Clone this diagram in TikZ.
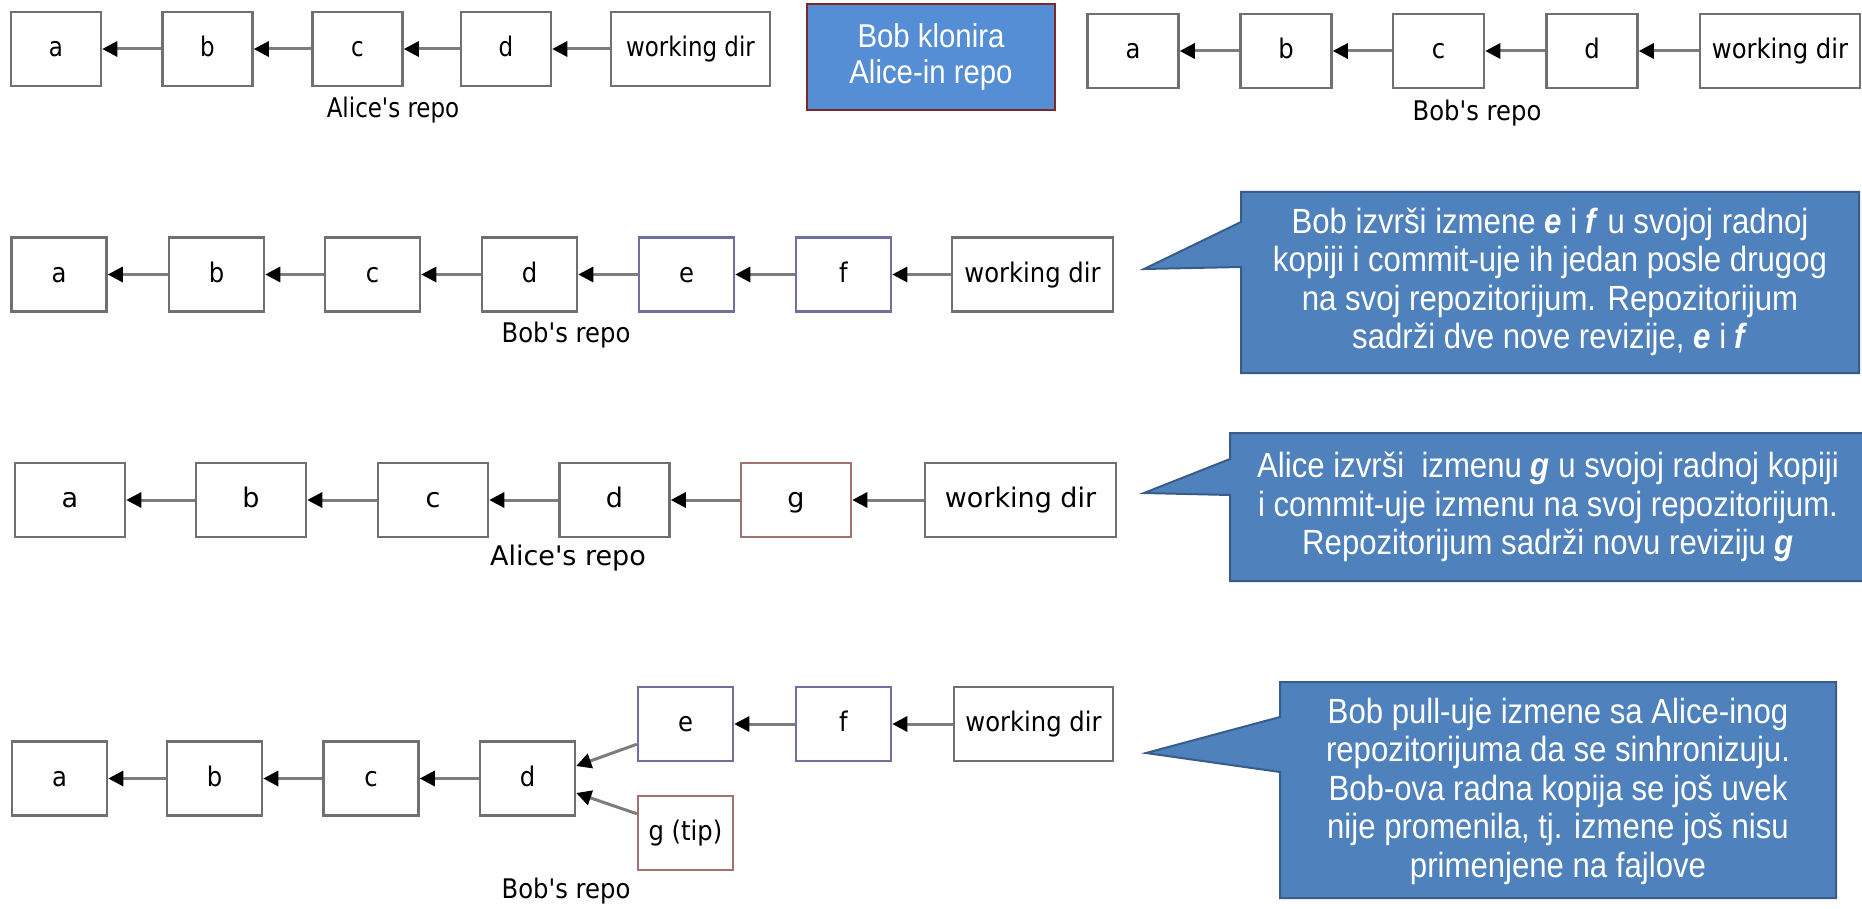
\documentclass[tikz,border=0pt]{standalone}
\usepackage{fontspec}
\setmainfont{Liberation Sans}
\newfontfamily\lblA[FakeStretch=0.85]{DejaVu Sans}
\newfontfamily\lblB[FakeStretch=0.9]{DejaVu Sans}
\newfontfamily\lblC[FakeStretch=1.0]{DejaVu Sans}
\newfontfamily\notefont[FakeStretch=0.89]{Liberation Sans}
\usetikzlibrary{arrows.meta,calc}

\definecolor{boxgray}{RGB}{112,112,112}
\definecolor{boxblue}{RGB}{112,112,160}
\definecolor{boxred}{RGB}{165,112,112}
\definecolor{linkgray}{RGB}{125,125,125}
\definecolor{noteblue}{RGB}{79,129,189}
\definecolor{noteedge}{RGB}{56,93,138}
\definecolor{titleblue}{RGB}{85,142,213}
\definecolor{titleedge}{RGB}{128,40,40}

\newcommand\rowfontA{\lblA\fontsize{27}{32}\selectfont}
\newcommand\rowfontB{\lblB\fontsize{27}{32}\selectfont}
\newcommand\rowfontC{\lblC\fontsize{27}{32}\selectfont}

\tikzset{
  commit/.style={draw=boxgray, line width=2.5pt, fill=white, inner sep=0pt,
                 minimum width=#1, minimum height=74pt,
                 text height=20pt, text depth=5pt},
  newcommit/.style={commit=#1, draw=boxblue},
  tipcommit/.style={commit=#1, draw=boxred},
  link/.style={draw=linkgray, line width=3pt,
               -{Triangle[length=15pt,width=15pt,color=black]}},
  note/.style={fill=noteblue, draw=noteedge, line width=2pt, line join=miter},
  notetext/.style={align=center, text=white, inner sep=0pt,
                   font=\notefont\fontsize{35}{38.5}\selectfont},
  repolabel/.style={inner sep=0pt},
}

\begin{document}
\begin{tikzpicture}[x=1pt,y=-1pt]
\useasboundingbox (0,0) rectangle (1862,909);
\fill[white] (0,0) rectangle (1862,909);

% ---- Alice's repository (top left) ----
\begin{scope}[every node/.append style={font=\rowfontA}]
  \node[commit=90pt] (a1) at (56,49) {a};
  \node[commit=90pt] (b1) at (207.5,49) {b};
  \node[commit=90pt] (c1) at (357.5,49) {c};
  \node[commit=90pt] (d1) at (506,49) {d};
  \node[commit=159pt] (w1) at (690.5,49) {working dir};
  \node[repolabel] (l1) at (393,110) {Alice's repo};
\end{scope}
\draw[link] (b1) -- (a1);
\draw[link] (c1) -- (b1);
\draw[link] (d1) -- (c1);
\draw[link] (w1) -- (d1);

% ---- clone step ----
\node[draw=titleedge, line width=2pt, fill=titleblue, minimum width=248pt,
      minimum height=106pt, inner sep=0pt, align=center, text=white,
      font=\notefont\fontsize{33}{36}\selectfont] (clone) at (931,57)
      {Bob klonira\\Alice-in repo};

% ---- Bob's repository after cloning (top right) ----
\begin{scope}[every node/.append style={font=\rowfontB}]
  \node[commit=91pt] (a1b) at (1133,51) {a};
  \node[commit=91pt] (b1b) at (1286,51) {b};
  \node[commit=91pt] (c1b) at (1438.5,51) {c};
  \node[commit=91pt] (d1b) at (1592,51) {d};
  \node[commit=160pt] (w1b) at (1780,51) {working dir};
  \node[repolabel] (l1b) at (1477,113) {Bob's repo};
\end{scope}
\draw[link] (b1b) -- (a1b);
\draw[link] (c1b) -- (b1b);
\draw[link] (d1b) -- (c1b);
\draw[link] (w1b) -- (d1b);

% ---- Bob commits e and f ----
\begin{scope}[every node/.append style={font=\rowfontB}]
  \node[commit=95pt] (a2) at (59,274.5) {a};
  \node[commit=95pt] (b2) at (216.5,274.5) {b};
  \node[commit=95pt] (c2) at (372.5,274.5) {c};
  \node[commit=95pt] (d2) at (529.5,274.5) {d};
  \node[newcommit=95pt] (e2) at (686.5,274.5) {e};
  \node[newcommit=95pt] (f2) at (843.5,274.5) {f};
  \node[commit=161pt] (w2) at (1032.5,274.5) {working dir};
  \node[repolabel] (l2) at (566,335) {Bob's repo};
\end{scope}
\draw[link] (b2) -- (a2);
\draw[link] (c2) -- (b2);
\draw[link] (d2) -- (c2);
\draw[link] (e2) -- (d2);
\draw[link] (f2) -- (e2);
\draw[link] (w2) -- (f2);

\draw[note] (1241,192) -- (1859,192) -- (1859,373) -- (1241,373)
  -- (1241,267) -- (1144,269) -- (1241,222) -- cycle;
\node[notetext] (t2) at (1550,282)
  {Bob izvrši izmene \textbf{\textit{e}} i \textbf{\textit{f}} u svojoj radnoj\\
   kopiji i commit-uje ih jedan posle drugog\\
   na svoj repozitorijum. Repozitorijum\\
   sadrži dve nove revizije, \textbf{\textit{e}} i \textbf{\textit{f}}};

% ---- Alice commits g ----
\begin{scope}[every node/.append style={font=\rowfontC}]
  \node[commit=110pt] (a3) at (70,500) {a};
  \node[commit=110pt] (b3) at (251,500) {b};
  \node[commit=110pt] (c3) at (433,500) {c};
  \node[commit=110pt] (d3) at (614.5,500) {d};
  \node[tipcommit=110pt] (g3) at (796,500) {g};
  \node[commit=191pt] (w3) at (1020.5,500) {working dir};
  \node[repolabel] (l3) at (568,558) {Alice's repo};
\end{scope}
\draw[link] (b3) -- (a3);
\draw[link] (c3) -- (b3);
\draw[link] (d3) -- (c3);
\draw[link] (g3) -- (d3);
\draw[link] (w3) -- (g3);

\draw[note] (1230,433) -- (1863,433) -- (1863,581) -- (1230,581)
  -- (1230,495) -- (1144,493) -- (1230,459) -- cycle;
\node[notetext] (t3) at (1548,507)
  {Alice izvrši\ \ izmenu \textbf{\textit{g}} u svojoj radnoj kopiji\\
   i commit-uje izmenu na svoj repozitorijum.\\
   Repozitorijum sadrži novu reviziju \textbf{\textit{g}}};

% ---- Bob pulls from Alice ----
\begin{scope}[every node/.append style={font=\rowfontB}]
  \node[commit=95pt] (a4) at (59.5,778.5) {a};
  \node[commit=95pt] (b4) at (214.5,778.5) {b};
  \node[commit=95pt] (c4) at (371,778.5) {c};
  \node[commit=95pt] (d4) at (527.5,778.5) {d};
  \node[newcommit=95pt] (e4) at (685.5,724) {e};
  \node[newcommit=95pt] (f4) at (843.5,724) {f};
  \node[commit=159pt] (w4) at (1033.5,724) {working dir};
  \node[tipcommit=95pt] (g4) at (685.5,833) {g (tip)};
  \node[repolabel] (l4) at (566,891) {Bob's repo};
\end{scope}
\draw[link] (b4) -- (a4);
\draw[link] (c4) -- (b4);
\draw[link] (d4) -- (c4);
\draw[link] (f4) -- (e4);
\draw[link] (w4) -- (f4);
\draw[link] ($(e4.south west)+(0,-18)$) -- ($(d4.east)+(0,-12.5)$);
\draw[link] ($(g4.north west)+(0,19)$) -- ($(d4.east)+(0,14.5)$);

\draw[note] (1280,682) -- (1836,682) -- (1836,898) -- (1280,898)
  -- (1280,772) -- (1146,753) -- (1280,717) -- cycle;
\node[notetext] (t4) at (1558,791)
  {Bob pull-uje izmene sa Alice-inog\\
   repozitorijuma da se sinhronizuju.\\
   Bob-ova radna kopija se još uvek\\
   nije promenila, tj. izmene još nisu\\
   primenjene na fajlove};
\end{tikzpicture}
\end{document}
